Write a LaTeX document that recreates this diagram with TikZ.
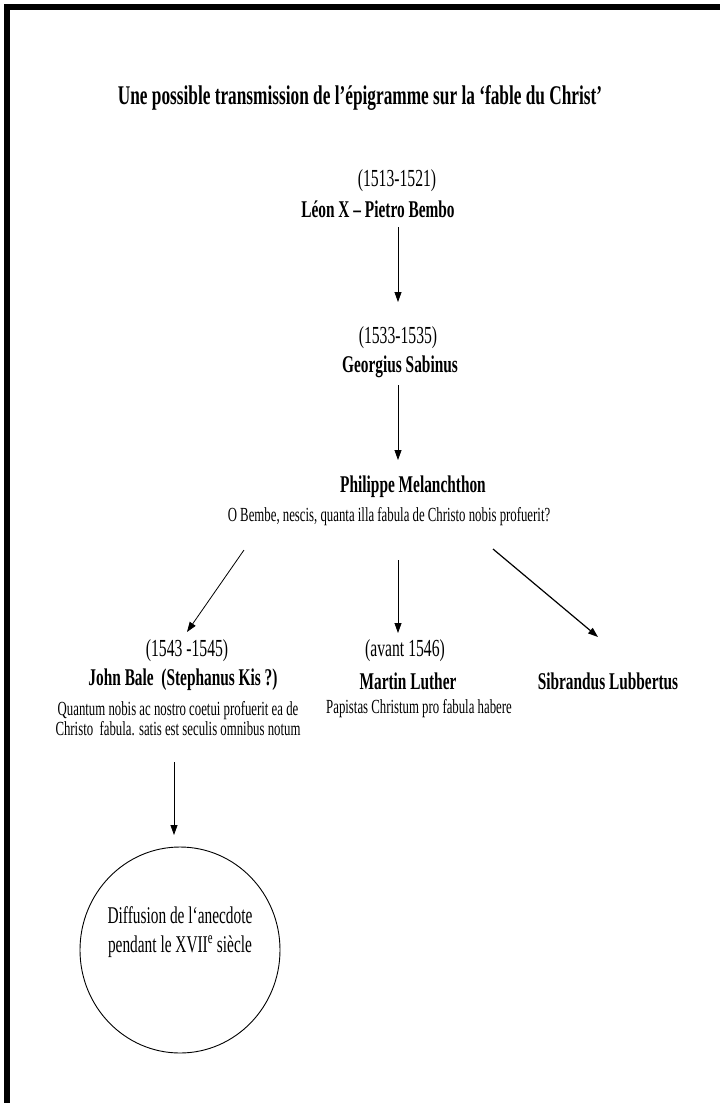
\documentclass[tikz,border=0pt]{standalone}
\usepackage{fontspec}
\setmainfont[FakeStretch=0.64]{Liberation Serif}
\usetikzlibrary{arrows.meta,calc,shapes.geometric}
\begin{document}
\begin{tikzpicture}[x=1pt,y=-1pt,
  every node/.style={inner sep=0pt, outer sep=0pt},
  titletext/.style={font=\fontsize{27}{31}\selectfont\bfseries},
  nametext/.style={font=\fontsize{24}{28}\selectfont\bfseries},
  datetext/.style={font=\fontsize{24.5}{28}\selectfont},
  quotetext/.style={font=\fontsize{20}{20}\selectfont, align=center},
  circletext/.style={font=\fontsize{24}{29}\selectfont, align=center},
  arr/.style={-{Triangle[length=10pt,width=7pt]}, line width=0.8pt},
  framebar/.style={line width=6pt, line join=miter}]
\useasboundingbox (0,0) rectangle (720,1103);
\draw[framebar] (7,1103) -- (7,7) -- (720,7);

\node[titletext] (title) at (360,98) {Une possible transmission de l’épigramme sur la ‘fable du Christ’};

\node[datetext] (d1) at (397,181) {(1513-1521)};
\node[nametext] (leon) at (378,209) {Léon X – Pietro Bembo};

\node[datetext] (d2) at (398,338) {(1533-1535)};
\node[nametext] (sab) at (400,367) {Georgius Sabinus};

\node[nametext] (mel) at (413,487) {Philippe Melanchthon};
\node[quotetext] (melq) at (389,517) {O Bembe, nescis, quanta illa fabula de Christo nobis profuerit?};

\node[datetext] (baled) at (187,651) {(1543 -1545)};
\node[nametext] (bale) at (183,680) {John Bale~ (Stephanus Kis ?)};
\node[quotetext] (baleq) at (178,719) {Quantum nobis ac nostro coetui profuerit ea de\\Christo~ fabula. satis est seculis omnibus notum};

\node[datetext] (lutd) at (405,651) {(avant 1546)};
\node[nametext] (lut) at (408,681) {Martin Luther};
\node[quotetext] (lutq) at (419,709) {Papistas Christum pro fabula habere};

\node[nametext] (sib) at (608,681) {Sibrandus Lubbertus};

\node[draw, ellipse, line width=0.9pt, minimum width=200pt, minimum height=206pt] (diff) at (180,950) {};
\node[circletext] (difft) at (180,932) {Diffusion de l‘anecdote\\pendant le XVII\textsuperscript{e} siècle};

\draw[arr] ($(leon.center)+(20,18)$) -- ($(d2.center)+(0,-36)$);
\draw[arr] ($(sab.center)+(-2,18)$) -- ($(mel.center)+(-15,-27)$);
\draw[arr] ($(melq.center)+(-145,33)$) -- ($(baled.center)+(0,-19)$);
\draw[arr] ($(melq.center)+(9,43)$) -- ($(lutd.center)+(-7,-18)$);
\draw[arr, line width=1.2pt] ($(melq.center)+(104,32)$) -- ($(sib.center)+(-10,-44)$);
\draw[arr] ($(baleq.center)+(-4,43)$) -- ($(diff.north)+(-6,-12)$);
\end{tikzpicture}
\end{document}
